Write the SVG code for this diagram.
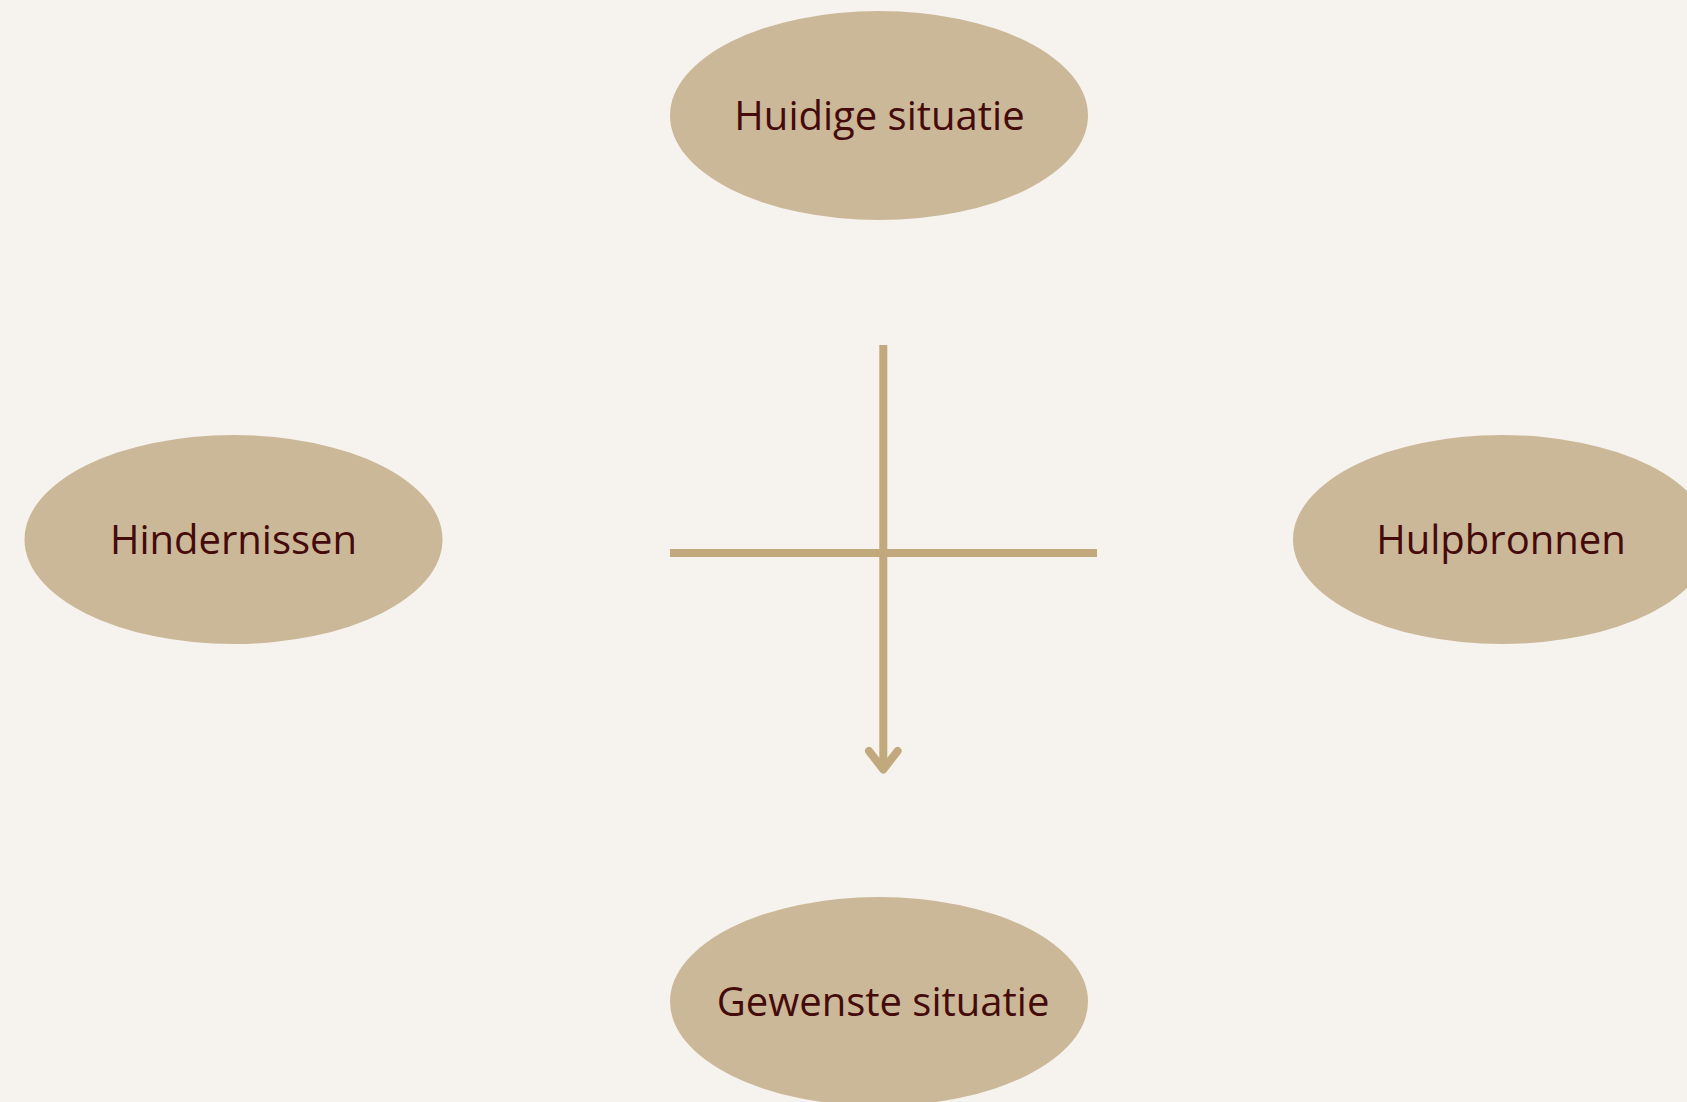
<svg xmlns="http://www.w3.org/2000/svg" width="1687" height="1102" viewBox="0 0 1687 1102">
<style>
.node ellipse{fill:#CBB898}
.node text{font-family:"Open Sans","Noto Sans",sans-serif;font-size:40px;fill:#450A0A;text-anchor:middle}
.conn{stroke:#C2A97D;stroke-width:8;fill:none}
</style>
<rect width="1687" height="1102" fill="#F6F2EE"/>
<g id="huidige-situatie" class="node"><ellipse cx="879" cy="115.5" rx="209" ry="104.5"/><text x="879.5" y="130">Huidige situatie</text></g>
<g id="hindernissen" class="node"><ellipse cx="233.5" cy="539.5" rx="209" ry="104.5"/><text x="233.5" y="554">Hindernissen</text></g>
<g id="hulpbronnen" class="node"><ellipse cx="1502" cy="539.5" rx="209" ry="104.5"/><text x="1501" y="554">Hulpbronnen</text></g>
<g id="gewenste-situatie" class="node"><ellipse cx="879" cy="1001.5" rx="209" ry="104.5"/><text x="883" y="1016">Gewenste situatie</text></g>
<g id="connectors">
<line class="conn" x1="670" y1="553" x2="1097" y2="553"/>
<line class="conn" x1="883.3" y1="345" x2="883.3" y2="768"/>
<polyline class="conn" points="869,751 883.3,769.5 897.6,751" stroke-linecap="round" stroke-linejoin="round"/>
</g>
</svg>
